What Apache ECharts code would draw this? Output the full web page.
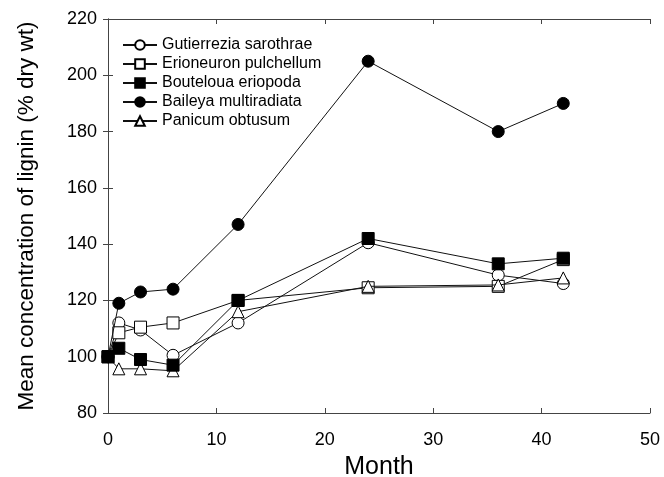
<!DOCTYPE html>
<html>
<head>
<meta charset="utf-8">
<script src="https://cdn.jsdelivr.net/npm/echarts@6/dist/echarts.min.js"></script>
<style>
  html, body { margin: 0; padding: 0; background: #fff; }
  #chart { width: 664px; height: 477px; }
</style>
</head>
<body>
<div id="chart"></div>
<script>
// months sampled
const months = [0, 1, 3, 6, 12, 24, 36, 42];

// lignin, % of initial dry wt
const gutierrezia = [100, 112, 109.5, 100.5, 112, 140.5, 129, 126];
const erioneuron = [100, 108.5, 110.5, 112, 120, 124.5, 125, 134.5];
const bouteloua = [100, 103, 99, 97, 120, 142, 133, 135];
const baileya = [100, 119, 123, 124, 147, 205, 180, 190];
const panicum = [100, 95.7, 95.7, 95, 116, 125, 125.5, 128];

const names = [
  'Gutierrezia sarothrae',
  'Erioneuron pulchellum',
  'Bouteloua eriopoda',
  'Baileya multiradiata',
  'Panicum obtusum'
];

const pair = (ys) => months.map((m, i) => [m, ys[i]]);

const font = 'Liberation Sans, Arial, Helvetica, sans-serif';

const makeSeries = (name, ys, symbol, filled, z) => ({
  name: name,
  type: 'line',
  data: pair(ys),
  symbol: symbol,
  symbolSize: 12,
  showAllSymbol: true,
  z: z,
  lineStyle: { color: '#111', width: 1 },
  itemStyle: {
    color: filled ? '#000' : '#fff',
    borderColor: '#000',
    borderWidth: 1
  },
  emphasis: { disabled: true }
});

const chart = echarts.init(document.getElementById('chart'));

const frameAxis = {
  axisLine: { show: true, lineStyle: { color: '#444', width: 1 } },
  axisTick: { show: true, inside: true, length: 5, lineStyle: { color: '#444' } },
  splitLine: { show: false }
};

chart.setOption({
  animation: false,
  grid: {
    left: 108, right: 14, top: 19, bottom: 64,
    containLabel: false,
    outerBoundsMode: 'none'
  },
  legend: {
    orient: 'vertical',
    left: 117,
    top: 32,
    itemWidth: 34,
    itemHeight: 12,
    itemGap: 3,
    data: names,
    textStyle: { fontFamily: font, fontSize: 16, color: '#000' }
  },
  xAxis: [
    Object.assign({
      type: 'value',
      min: 0, max: 50, interval: 10,
      name: 'Month',
      nameLocation: 'middle',
      nameGap: 42,
      nameTextStyle: { fontFamily: font, fontSize: 25, color: '#000' },
      axisLabel: { fontFamily: font, fontSize: 18, color: '#000', margin: 18 }
    }, frameAxis),
    Object.assign({
      type: 'value', position: 'top',
      min: 0, max: 50, interval: 10,
      axisLabel: { show: false }
    }, frameAxis)
  ],
  yAxis: [
    Object.assign({
      type: 'value',
      min: 80, max: 220, interval: 20,
      name: 'Mean concentration of lignin (% dry wt)',
      nameLocation: 'middle',
      nameGap: 70,
      nameTextStyle: { fontFamily: font, fontSize: 22.5, color: '#000' },
      axisLabel: { fontFamily: font, fontSize: 18, color: '#000', margin: 11 }
    }, frameAxis),
    Object.assign({
      type: 'value', position: 'right',
      min: 80, max: 220, interval: 20,
      axisLabel: { show: false }
    }, frameAxis)
  ],
  series: [
    makeSeries(names[0], gutierrezia, 'circle', false, 2),
    makeSeries(names[1], erioneuron, 'rect', false, 3),
    makeSeries(names[2], bouteloua, 'rect', true, 5),
    makeSeries(names[3], baileya, 'circle', true, 6),
    makeSeries(names[4], panicum, 'triangle', false, 4)
  ]
});
</script>
</body>
</html>
